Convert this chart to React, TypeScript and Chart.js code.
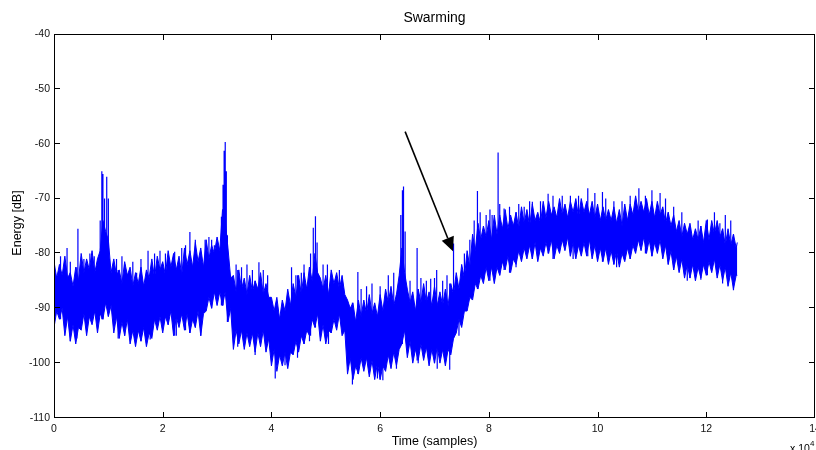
import React, { useEffect, useRef } from "react";
import { Chart, registerables } from "chart.js";

Chart.register(...registerables);

// ---- data (energy in dB, time in samples) ----
const binSamples = 500; // envelope step
const lastSample = 125700;
// upper edge of the dense noise band, one value every 500 samples
const upperEnv = [
  -81.5, -84.5, -82, -84, -80.5, -84.5, -83.5, -86, -82.5, -85,
  -80, -83.5, -81, -83, -79.5, -83.5, -81, -79.5, -74, -76,
  -77.5, -83.5, -81, -84, -83, -85.5, -81.5, -84, -82.5, -86,
  -83.5, -85.5, -82.5, -86, -83, -84.5, -81, -84.5, -80.5, -83,
  -81.5, -84, -79.5, -82.5, -80, -83, -80.5, -84, -79, -82,
  -79.5, -82.5, -78, -81.5, -79, -82.5, -77.5, -81, -78.5, -80,
  -77, -79.5, -72, -74, -79, -84.5, -84, -87, -83, -86.5,
  -84.5, -87.5, -84, -87, -85, -86.5, -83.5, -87.5, -85.5, -88,
  -88, -90.5, -88, -92, -88.5, -90.5, -86.5, -89.5, -85.5, -88,
  -84, -87.5, -83.5, -86.5, -82.5, -85, -80, -83.5, -84.5, -86.5,
  -84, -87.5, -83, -85.5, -83.5, -86.5, -84, -87.5, -88.5, -90,
  -89, -92.5, -88.5, -91.5, -88.5, -91, -87.5, -91, -89, -91.5,
  -87.5, -90.5, -86.5, -89, -86, -89.5, -87.5, -84, -79, -83.5,
  -86.5, -89, -87, -90.5, -86.5, -89, -85.5, -89, -87, -89.5,
  -86, -89.5, -87, -89.5, -86.5, -89.5, -85.5, -87.5, -83.5, -86.5,
  -82, -84.5, -79.5, -82.5, -76.5, -79.5, -74.5, -77.5, -75, -77,
  -74, -77.5, -73, -76.5, -73, -75.5, -72, -75.5, -73, -75,
  -72.5, -75.5, -71.5, -74.5, -72, -75, -71, -74, -72.5, -74.5,
  -70.5, -73.5, -70.5, -73, -71.5, -73.5, -70, -73, -71, -73.5,
  -70.5, -72.5, -70, -73.5, -70, -72.5, -70.5, -73, -70.5, -73.5,
  -71, -74, -71.5, -74, -72, -74, -71.5, -74.5, -72, -75,
  -71, -74, -71, -73, -69.5, -72.5, -70.5, -72.5, -70, -73,
  -70.5, -73.5, -70.5, -73, -71.5, -74.5, -72.5, -75, -73, -76,
  -74, -77, -74.5, -76.5, -74.5, -77.5, -75.5, -77.5, -75, -78,
  -74, -77.5, -74, -76.5, -74, -77, -75.5, -78.5, -75.5, -78.5,
  -76.5, -79, -78,
];
// lower edge of the dense noise band, one value every 500 samples
const lowerEnv = [
  -93.5, -90.5, -92, -90, -95, -91.5, -96, -93, -96.5, -93.5,
  -94, -91, -95, -91.5, -93, -90.5, -94.5, -91, -92, -89,
  -91.5, -89.5, -94.5, -91.5, -95.5, -92.5, -95, -92, -96.5, -94,
  -97, -94, -96, -93.5, -97, -94.5, -95.5, -92, -94, -91.5,
  -94.5, -91.5, -93, -90.5, -95, -91.5, -93.5, -91, -94, -91,
  -94.5, -92, -93.5, -90.5, -95, -91, -90.5, -88, -90, -87,
  -89.5, -87, -89.5, -87, -92.5, -90, -97.5, -94, -96.5, -94,
  -97.5, -94.5, -97, -94.5, -98, -94.5, -97, -94, -98, -95.5,
  -100.5, -97.5, -101.5, -98.5, -100.5, -98, -101, -98, -98.5, -96,
  -98, -95, -96.5, -94, -95, -92, -93.5, -91, -96, -93,
  -96.5, -94, -94.5, -92, -94, -91, -95, -94, -102, -99,
  -103, -100.5, -102, -99, -101.5, -99, -102.5, -99.5, -103, -100,
  -103, -100.5, -101.5, -98.5, -101, -98, -100.5, -97.5, -96.5, -94,
  -99, -96, -100, -97.5, -99.5, -96.5, -99.5, -97, -100.5, -97.5,
  -100, -97, -100, -97.5, -100.5, -97.5, -98.5, -95.5, -94.5, -92,
  -93.5, -90.5, -90.5, -88, -88.5, -85.5, -86.5, -84, -85.5, -82.5,
  -85, -82.5, -85.5, -82.5, -84, -81.5, -83, -80.5, -83.5, -81,
  -82, -79.5, -81.5, -79, -81, -78.5, -81, -78, -81.5, -79,
  -80.5, -78, -80, -77.5, -81, -78.5, -80, -77.5, -79.5, -77,
  -80.5, -78, -81, -78.5, -80.5, -78, -80.5, -77.5, -81, -78.5,
  -81.5, -79, -81.5, -79, -82, -79.5, -82, -79.5, -82.5, -80,
  -81.5, -79, -81, -78.5, -80, -77.5, -79.5, -77, -80, -77.5,
  -80.5, -78, -80, -77.5, -81, -78.5, -82, -79.5, -83, -80.5,
  -83.5, -81, -84.5, -82, -84.5, -82, -85, -82.5, -84.5, -82,
  -84, -81.5, -83.5, -81, -84.5, -82, -85, -82.5, -86, -83.5,
  -86.5, -84, -84,
];
// tall upward excursions (sample, peak dB)
const spikeSamples = [
  1200, 2400, 3000, 4400, 5500, 6600, 7400, 8500, 8800, 9000,
  9300, 9700, 10000, 11500, 12500, 13000, 14500, 16000, 17300, 18500,
  19500, 20500, 21000, 22200, 23500, 24200, 25000, 26000, 27000, 27800,
  28500, 29000, 29500, 30800, 31100, 31300, 31500, 31700, 31900, 33500,
  34500, 35500, 36500, 37700, 38500, 39300, 43700, 44500, 45500, 46000,
  47200, 47700, 48100, 48400, 49500, 50300, 51000, 52500, 55900, 56500,
  57500, 58500, 60000, 61500, 62500, 63800, 64100, 64300, 64600, 65500,
  66800, 67500, 68500, 69300, 70000, 70400, 71500, 72300, 73500, 75500,
  76500, 77300, 77900, 78400, 79500, 80200, 80600, 81700, 82000, 82800,
  83800, 85500, 86500, 87500, 88000, 89500, 90900, 91800, 93500, 95000,
  96500, 98200, 99500, 100900, 101500, 103000, 104500, 106000, 107600, 108800,
  110000, 111500, 112500, 114000, 115500, 117000, 118500, 120200, 121500, 122500,
  123500, 124500,
];
const spikeTops = [
  -80.5, -79, -81.5, -75.5, -81, -80, -80.5, -74, -65, -65.5,
  -70, -66, -70, -81, -80.5, -82, -81.5, -81, -79.5, -80,
  -79.5, -80, -81, -79.7, -79, -78.5, -76.1, -77.5, -80, -77.5,
  -77, -77.5, -78.5, -73.3, -67.5, -61.3, -59.7, -65, -76.7, -82,
  -82.5, -82, -83, -81.6, -83, -84, -82.5, -84, -83.5, -82,
  -80, -75.3, -73.2, -78, -82, -82, -84.3, -83, -83.4, -86.5,
  -86, -85.5, -86, -84, -83.5, -73, -68.5, -67.8, -76, -85,
  -79, -84.5, -85, -84.6, -84.5, -83, -85, -84, -78.2, -80,
  -77.5, -74, -68.6, -72.5, -73, -72, -73, -61.6, -71, -71.8,
  -71.5, -71, -71.5, -70.5, -70.6, -70.5, -69.1, -69.5, -69.5, -69.5,
  -69.5, -68.1, -69, -68.8, -70, -70.5, -70.5, -69.5, -68.1, -69.5,
  -68.5, -69, -70, -71.5, -72.5, -75, -74, -73.8, -72.5, -74.5,
  -73, -74,
];
// deep downward excursions (sample, trough dB)
const dipSamples = [
  3000, 4200, 11800, 15200, 17700, 22500, 33800, 37000, 40700, 42500,
  44800, 47000, 50500, 54900, 59500, 60500, 63000, 67000, 70500, 72800,
  74500, 85000, 95500, 103500, 113000, 116500, 119000, 123000, 125000,
];
const dipBottoms = [
  -95, -95.5, -95.5, -95.5, -95.7, -95, -97, -98.5, -102.8, -100.4,
  -99, -96, -96.5, -103.9, -102.8, -103.1, -101, -100, -101, -101.2,
  -95, -82.5, -81, -82.5, -82, -85, -84.8, -85.5, -86.7,
];
const onsetSample = 0;
const onsetLow = -112;
const onsetHigh = -82;

const xMin = 0;
const xMax = 140000;
const xStep = 20000;
const yMin = -110;
const yMax = -40;
const yStep = 10;

const arrowStart = { x: 64600, y: -57.8 };
const arrowTip = { x: 73400, y: -79.6 };

const titleText = "Swarming";
const xLabel = "Time (samples)";
const yLabel = "Energy [dB]";

const BLUE = "#0000ff";
const FONT = '"Liberation Sans", Arial, sans-serif';

function envSample(i: number) {
  return i === upperEnv.length - 1 ? lastSample : i * binSamples;
}
function envIndex(s: number) {
  return Math.min(upperEnv.length - 1, Math.round(s / binSamples));
}

const framePlugin = {
  id: "matlabFrame",
  afterDatasetsDraw(chart: any) {
    const { ctx, chartArea } = chart;
    const { left, right, top, bottom } = chartArea;
    const xs = chart.scales.x;
    const ys = chart.scales.y;
    ctx.save();
    // arrow annotation
    const ax0 = xs.getPixelForValue(arrowStart.x);
    const ay0 = ys.getPixelForValue(arrowStart.y);
    const ax1 = xs.getPixelForValue(arrowTip.x);
    const ay1 = ys.getPixelForValue(arrowTip.y);
    const dx = ax1 - ax0;
    const dy = ay1 - ay0;
    const len = Math.hypot(dx, dy);
    const ux = dx / len;
    const uy = dy / len;
    const headL = 14;
    const headW = 6.5;
    const bx = ax1 - ux * headL;
    const by = ay1 - uy * headL;
    ctx.strokeStyle = "#000";
    ctx.fillStyle = "#000";
    ctx.lineWidth = 1.6;
    ctx.beginPath();
    ctx.moveTo(ax0, ay0);
    ctx.lineTo(bx, by);
    ctx.stroke();
    ctx.beginPath();
    ctx.moveTo(ax1, ay1);
    ctx.lineTo(bx - uy * headW, by + ux * headW);
    ctx.lineTo(bx + uy * headW, by - ux * headW);
    ctx.closePath();
    ctx.fill();

    // frame
    ctx.lineWidth = 1;
    ctx.strokeStyle = "#000";
    ctx.strokeRect(left + 0.5, top + 0.5, right - left - 1, bottom - top - 1);
    // inward ticks
    const tl = 6;
    ctx.beginPath();
    xs.ticks.forEach((t: any) => {
      const px = Math.round(xs.getPixelForValue(t.value)) + 0.5;
      if (px <= left + 1 || px >= right - 1) return;
      ctx.moveTo(px, bottom);
      ctx.lineTo(px, bottom - tl);
      ctx.moveTo(px, top);
      ctx.lineTo(px, top + tl);
    });
    ys.ticks.forEach((t: any) => {
      const py = Math.round(ys.getPixelForValue(t.value)) - 0.5;
      if (py <= top + 1 || py >= bottom - 1) return;
      ctx.moveTo(left, py);
      ctx.lineTo(left + tl, py);
      ctx.moveTo(right, py);
      ctx.lineTo(right - tl, py);
    });
    ctx.stroke();
    ctx.restore();
  },
  afterDraw(chart: any) {
    const { ctx, chartArea } = chart;
    const { left, right, top, bottom } = chartArea;
    const cx = (left + right) / 2;
    ctx.save();
    ctx.fillStyle = "#000";
    ctx.textAlign = "center";
    ctx.textBaseline = "middle";
    ctx.font = `14px ${FONT}`;
    ctx.fillText(titleText, cx, 18);
    ctx.font = `12.5px ${FONT}`;
    ctx.fillText(xLabel, cx, 442);
    ctx.save();
    ctx.translate(17.5, (top + bottom) / 2 - 3);
    ctx.rotate(-Math.PI / 2);
    ctx.fillText(yLabel, 0, 0);
    ctx.restore();
    // exponent
    ctx.textAlign = "left";
    ctx.textBaseline = "alphabetic";
    ctx.font = `10.5px ${FONT}`;
    ctx.fillText("x 10", 790, 452);
    ctx.font = `8px ${FONT}`;
    ctx.fillText("4", 810, 446);
    ctx.restore();
  },
};

export default function App() {
  const ref = useRef<HTMLCanvasElement | null>(null);
  useEffect(() => {
    document.body.style.margin = "0";
    const canvas = ref.current;
    if (!canvas) return;
    Chart.defaults.font.family = FONT;

    const upperData = upperEnv.map((v, i) => ({ x: envSample(i), y: v }));
    const lowerData = lowerEnv.map((v, i) => ({ x: envSample(i), y: v }));
    const spikeData: any[] = [];
    spikeSamples.forEach((s, i) => {
      spikeData.push({ x: s, y: lowerEnv[envIndex(s)] });
      spikeData.push({ x: s, y: spikeTops[i] });
      spikeData.push({ x: s, y: null });
    });
    const dipData: any[] = [];
    dipSamples.forEach((s, i) => {
      dipData.push({ x: s, y: upperEnv[envIndex(s)] });
      dipData.push({ x: s, y: dipBottoms[i] });
      dipData.push({ x: s, y: null });
    });
    const onsetData = [
      { x: onsetSample, y: onsetLow },
      { x: onsetSample, y: onsetHigh },
    ];

    const common = {
      borderColor: BLUE,
      borderWidth: 1,
      pointRadius: 0,
      tension: 0,
    };

    const chart = new Chart(canvas, {
      type: "line",
      data: {
        datasets: [
          { ...common, data: upperData, fill: false },
          { ...common, data: lowerData, fill: "-1", backgroundColor: BLUE },
          { ...common, borderWidth: 1.2, data: spikeData, fill: false, spanGaps: false },
          { ...common, borderWidth: 1.2, data: dipData, fill: false, spanGaps: false },
          { ...common, borderWidth: 1.5, data: onsetData, fill: false },
        ],
      },
      options: {
        responsive: false,
        animation: false,
        layout: { padding: { top: 34, right: 1, left: 0, bottom: 0 } },
        plugins: {
          legend: { display: false },
          tooltip: { enabled: false },
          title: { display: false },
        },
        scales: {
          x: {
            type: "linear",
            min: xMin,
            max: xMax,
            grid: { display: false, drawTicks: false },
            border: { display: false },
            ticks: {
              stepSize: xStep,
              padding: 5,
              color: "#111",
              font: { size: 10.5, family: FONT },
              maxRotation: 0,
              autoSkip: false,
              callback: (v: any) => String(Number(v) / 10000),
            },
            afterFit: (s: any) => {
              s.height = 32;
              s.paddingLeft = 0;
              s.paddingRight = 0;
            },
          },
          y: {
            type: "linear",
            min: yMin,
            max: yMax,
            grid: { display: false, drawTicks: false },
            border: { display: false },
            ticks: {
              stepSize: yStep,
              padding: 4,
              color: "#111",
              font: { size: 10.5, family: FONT },
              autoSkip: false,
            },
            afterFit: (s: any) => {
              s.width = 54;
              s.paddingTop = 0;
              s.paddingBottom = 0;
            },
          },
        },
      },
      plugins: [framePlugin],
    });
    return () => chart.destroy();
  }, []);

  return (
    <canvas
      ref={ref}
      width={816}
      height={450}
      style={{ display: "block", width: 816, height: 450 }}
    />
  );
}
